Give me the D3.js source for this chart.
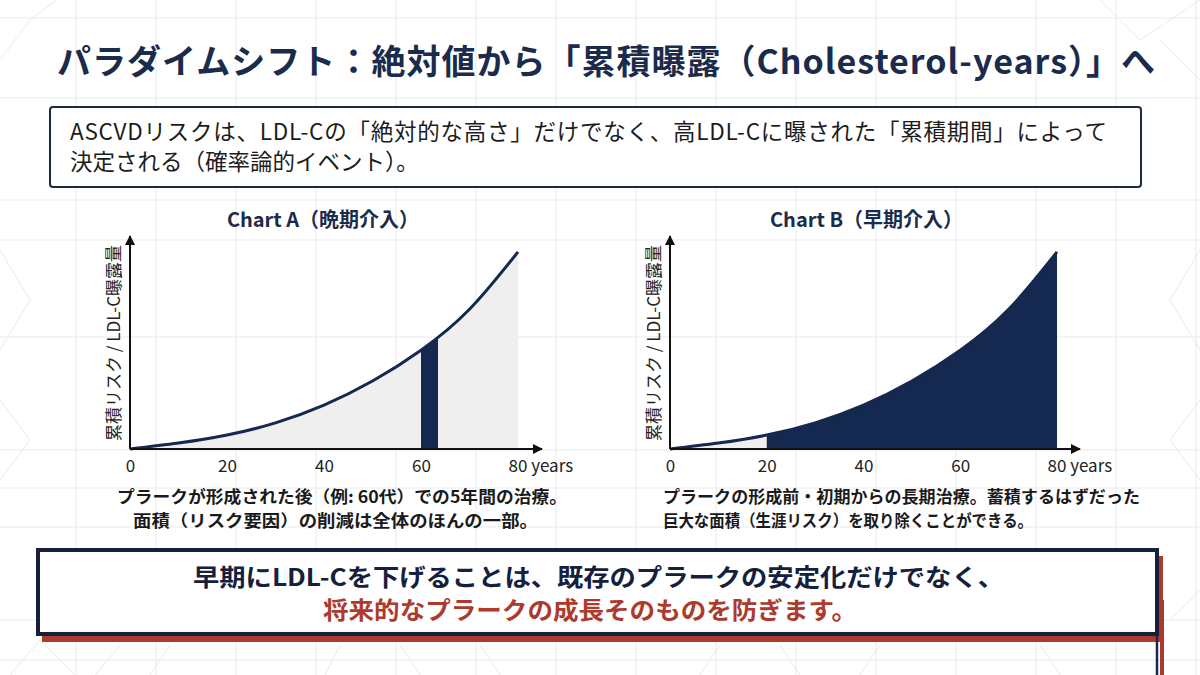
<!DOCTYPE html>
<html><head><meta charset="utf-8">
<script src="https://cdn.jsdelivr.net/npm/d3@7"></script>
<style>
html,body{margin:0;padding:0;background:#fff;}
svg{display:block;font-family:"Noto Sans CJK JP","Noto Sans",sans-serif;}
</style></head>
<body><svg id="c" width="1200" height="675"></svg>
<script>
// ---- data ----
const years = [0, 10, 20, 30, 40, 50, 60, 70, 80];
const exposure = [0, 2.8, 6.6, 12.4, 20.8, 32.2, 46.8, 66.2, 93.4];
const xTicks = [0, 20, 40, 60, 80];
const lateTreatment = [60, 63.5];   // Chart A band
const earlyTreatment = [20, 80];    // Chart B band
const titleText = "パラダイムシフト：絶対値から「累積曝露（Cholesterol-years）」へ";
const introLines = ["ASCVDリスクは、LDL-Cの「絶対的な高さ」だけでなく、高LDL-Cに曝された「累積期間」によって", "決定される（確率論的イベント）。"];
const chartTitles = ["Chart A（晩期介入）", "Chart B（早期介入）"];
const yLabel = "累積リスク / LDL-C曝露量";
const captionA = ["プラークが形成された後（例: 60代）での5年間の治療。", "面積（リスク要因）の削減は全体のほんの一部。"];
const captionB = ["プラークの形成前・初期からの長期治療。蓄積するはずだった", "巨大な面積（生涯リスク）を取り除くことができる。"];
const conclusion = ["早期にLDL-Cを下げることは、既存のプラークの安定化だけでなく、", "将来的なプラークの成長そのものを防ぎます。"];

const NAVY = "#15284f", RED = "#ad3a2c", GRID = "#e9e9ee", GRAY = "#efefef";
const svg = d3.select("#c");
const data = years.map((y, i) => ({t: y, v: exposure[i]}));

// ---- background grid ----
const bg = svg.append("g");
const vLines = d3.range(-4, 1200, 80);
const hLines = [18, 98, 200, 240, 337, 450, 488, 527, 620, 660];
bg.selectAll("line.v").data(vLines).join("line")
  .attr("x1", d => d).attr("x2", d => d).attr("y1", 0).attr("y2", 675)
  .attr("stroke", GRID).attr("stroke-width", 1);
bg.selectAll("line.h").data(hLines).join("line")
  .attr("x1", 0).attr("x2", 1200).attr("y1", d => d).attr("y2", d => d)
  .attr("stroke", GRID).attr("stroke-width", 1);
const diag = [
  [0,60,30,20],[30,20,70,-10],[0,250,30,300],[30,300,0,350],[0,400,30,440],[30,440,0,480],
  [1200,250,1170,300],[1170,300,1200,350],[1200,400,1170,440],[1170,440,1200,480],
  [1100,0,1140,40],[1140,40,1200,0],[1160,40,1200,80],
  [40,640,10,675],[40,640,75,675],[120,645,95,675],[170,645,150,675],[340,645,325,675],
  [400,645,420,675],[480,645,500,675],[720,645,700,675],[780,645,800,675],[880,645,860,675],
  [1040,645,1060,675],[1170,620,1200,590]
];
bg.selectAll("line.d").data(diag).join("line")
  .attr("x1", d => d[0]).attr("y1", d => d[1]).attr("x2", d => d[2]).attr("y2", d => d[3])
  .attr("stroke", GRID).attr("stroke-width", 1);

// ---- title ----
svg.append("text").attr("x", 57).attr("y", 74).attr("font-size", 34).attr("font-weight", 700)
  .attr("textLength", 1098).attr("lengthAdjust", "spacing")
  .attr("fill", "#1b2b4b").text(titleText);

// ---- intro box ----
svg.append("rect").attr("x", 50).attr("y", 107).attr("width", 1091).attr("height", 80).attr("rx", 3)
  .attr("fill", "#fff").attr("stroke", "#1e2a44").attr("stroke-width", 2);
introLines.forEach((l, i) => {
  const t = svg.append("text").attr("x", 70).attr("y", 140 + i * 30)
    .attr("font-size", 22.5).attr("fill", "#1c1c1c").text(l);
  if (i === 0) t.attr("textLength", 1037).attr("lengthAdjust", "spacing");
});

// ---- arrow marker ----
const defs = svg.append("defs");
defs.append("marker").attr("id", "arr").attr("viewBox", "0 0 10 10").attr("refX", 9).attr("refY", 5)
  .attr("markerWidth", 10).attr("markerHeight", 10).attr("markerUnits", "userSpaceOnUse").attr("orient", "auto")
  .append("path").attr("d", "M0,0 L10,5 L0,10 Z").attr("fill", "#111");

function chart(idx, x0, x1, arrowX, band) {
  const x = d3.scaleLinear().domain([0, 80]).range([x0, x1]);
  const y = d3.scaleLinear().domain([0, 100]).range([449, 238]);
  const g = svg.append("g");
  const area = d3.area().x(d => x(d.t)).y0(y(0)).y1(d => y(d.v)).curve(d3.curveNatural);
  const line = d3.line().x(d => x(d.t)).y(d => y(d.v)).curve(d3.curveNatural);
  g.append("path").datum(data).attr("d", area).attr("fill", GRAY);
  const cid = "clip" + idx;
  defs.append("clipPath").attr("id", cid).append("rect")
    .attr("x", x(band[0])).attr("y", 0).attr("width", x(band[1]) - x(band[0])).attr("height", 675);
  g.append("path").datum(data).attr("d", area).attr("fill", NAVY).attr("clip-path", `url(#${cid})`);
  g.append("path").datum(data).attr("d", line).attr("fill", "none").attr("stroke", NAVY).attr("stroke-width", 3);
  g.append("line").attr("x1", x(0)).attr("y1", y(0)).attr("x2", x(0)).attr("y2", 236)
    .attr("stroke", "#111").attr("stroke-width", 2).attr("marker-end", "url(#arr)");
  g.append("line").attr("x1", x(0)).attr("y1", y(0)).attr("x2", arrowX).attr("y2", y(0))
    .attr("stroke", "#111").attr("stroke-width", 2).attr("marker-end", "url(#arr)");
  const ax = g.append("g").attr("transform", `translate(0,${y(0)})`)
    .call(d3.axisBottom(x).tickValues(xTicks).tickSize(0).tickPadding(11).tickFormat(d => d));
  ax.select(".domain").remove();
  ax.selectAll("text").attr("font-size", 17).attr("fill", "#222")
    .attr("font-family", "'Noto Sans CJK JP','Noto Sans',sans-serif");
  ax.selectAll(".tick").filter(d => d === 80).select("text")
    .attr("text-anchor", "start").attr("dx", -10).text("80 years");
  g.append("text").attr("transform", `translate(${x0 - 18},343) rotate(-90)`)
    .attr("text-anchor", "middle").attr("dominant-baseline", "central")
    .attr("font-size", 17).attr("fill", "#222").text(yLabel);
  g.append("text").attr("x", (x0 + x1) / 2 + (idx === 0 ? -1 : 3)).attr("y", 227).attr("text-anchor", "middle")
    .attr("font-size", 20).attr("font-weight", 700).attr("fill", "#1b2b4b").text(chartTitles[idx]);
}
chart(0, 130, 518, 542, lateTreatment);
chart(1, 670, 1057, 1080, earlyTreatment);

// ---- captions ----
const capA = [[117, 450], [133, 405]];
const capB = [[663, 477], [663, 370]];
captionA.forEach((l, i) => svg.append("text").attr("x", capA[i][0]).attr("y", 503 + i * 24)
  .attr("textLength", capA[i][1]).attr("lengthAdjust", "spacingAndGlyphs")
  .attr("font-size", 16.5).attr("font-weight", 700).attr("fill", "#1a1a1a").text(l));
captionB.forEach((l, i) => svg.append("text").attr("x", capB[i][0]).attr("y", 503 + i * 24)
  .attr("textLength", capB[i][1]).attr("lengthAdjust", "spacingAndGlyphs")
  .attr("font-size", 16.5).attr("font-weight", 700).attr("fill", "#1a1a1a").text(l));

// ---- conclusion box ----
svg.append("rect").attr("x", 42).attr("y", 556).attr("width", 1121).attr("height", 86).attr("fill", RED);
svg.append("line").attr("x1", 1162).attr("x2", 1162).attr("y1", 600).attr("y2", 675).attr("stroke", RED).attr("stroke-width", 4);
svg.append("line").attr("x1", 1157).attr("x2", 1157).attr("y1", 600).attr("y2", 675).attr("stroke", NAVY).attr("stroke-width", 2.5);
svg.append("rect").attr("x", 38).attr("y", 550).attr("width", 1119).attr("height", 84)
  .attr("fill", "#fff").attr("stroke", "#15203d").attr("stroke-width", 4);
svg.append("text").attr("x", 193).attr("y", 586).attr("font-size", 24)
  .attr("textLength", 811).attr("lengthAdjust", "spacingAndGlyphs")
  .attr("font-weight", 700).attr("fill", "#15203d").text(conclusion[0]);
svg.append("text").attr("x", 323).attr("y", 619).attr("font-size", 24)
  .attr("textLength", 534).attr("lengthAdjust", "spacingAndGlyphs")
  .attr("font-weight", 700).attr("fill", RED).text(conclusion[1]);
</script></body></html>
